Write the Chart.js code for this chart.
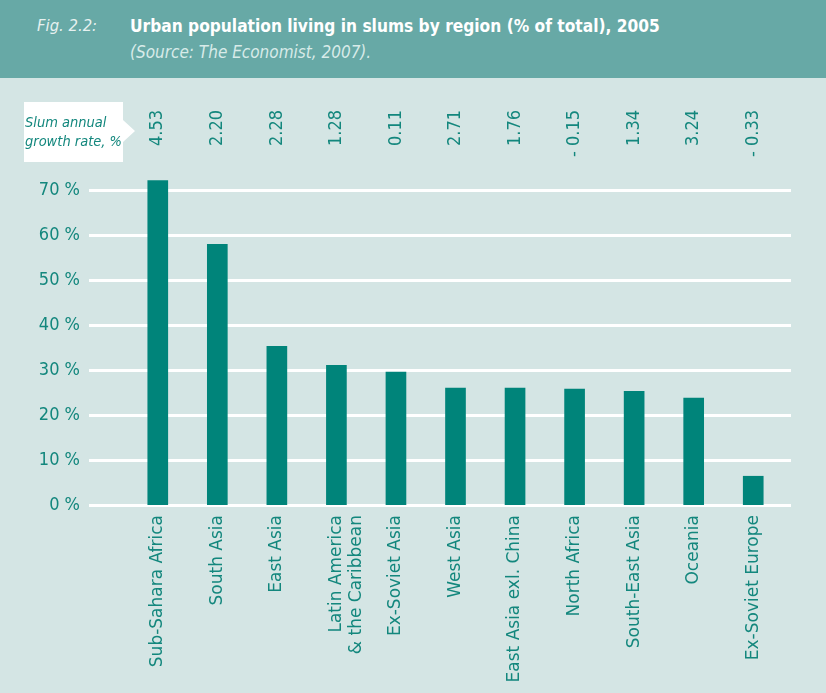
<!DOCTYPE html>
<html>
<head>
<meta charset="utf-8">
<script src="https://cdn.jsdelivr.net/npm/chart.js@4"></script>
<style>
  html, body { margin: 0; padding: 0; background: #d4e5e4; }
  #page { width: 826px; height: 693px; position: relative; overflow: hidden; background: #d4e5e4; }
  #header { position: absolute; left: 0; top: 0; width: 826px; height: 78px; background: #67a9a6; font-family: 'DejaVu Sans Condensed', 'Liberation Sans', sans-serif; }
  #fig { position: absolute; left: 37px; top: 16px; color: #e6f1f0; font-style: italic; font-size: 16.5px; }
  #title { position: absolute; left: 130px; top: 16px; color: #ffffff; font-weight: bold; font-size: 17.2px; }
  #source { position: absolute; left: 130px; top: 42px; color: #d8ebe9; font-style: italic; font-size: 17px; }
  #wrap { position: absolute; left: 0; top: 78px; width: 826px; height: 615px; }
</style>
</head>
<body>
<div id="page">
  <div id="header">
    <div id="fig">Fig. 2.2:</div>
    <div id="title">Urban population living in slums by region (% of total), 2005</div>
    <div id="source">(Source: The Economist, 2007).</div>
  </div>
  <div id="wrap"><canvas id="chart" width="826" height="615"></canvas></div>
</div>
<script>
// Regions and values
const regions = [
    'Sub-Sahara Africa',
    'South Asia',
    'East Asia',
    ['Latin America', '& the Caribbean'],
    'Ex-Soviet Asia',
    'West Asia',
    'East Asia exl. China',
    'North Africa',
    'South-East Asia',
    'Oceania',
    'Ex-Soviet Europe'
];
const slumShare = [72.2, 58.0, 35.3, 31.1, 29.6, 26.0, 26.0, 25.8, 25.3, 23.8, 6.4];
const growthRate = ['4.53', '2.20', '2.28', '1.28', '0.11', '2.71', '1.76', '- 0.15', '1.34', '3.24', '- 0.33'];
const yTicks = [0, 10, 20, 30, 40, 50, 60, 70];

const teal = '#00847a';
const textTeal = '#13877d';
const fontFamily = "'DejaVu Sans Condensed', 'Liberation Sans', sans-serif";
const wideFamily = "'DejaVu Sans', 'Liberation Sans', sans-serif";

// White gridlines that run past the category area
const gridPlugin = {
    id: 'wideGrid',
    beforeDatasetsDraw(chart) {
        const ctx = chart.ctx;
        const y = chart.scales.y;
        ctx.save();
        ctx.strokeStyle = '#ffffff';
        ctx.lineWidth = 3;
        yTicks.forEach(v => {
            const py = Math.round(y.getPixelForValue(v)) + 0.5;
            ctx.beginPath();
            ctx.moveTo(89, py);
            ctx.lineTo(791, py);
            ctx.stroke();
        });
        ctx.restore();
    }
};

// Growth rate row and its callout box
const growthPlugin = {
    id: 'growthRow',
    afterDraw(chart) {
        const ctx = chart.ctx;
        const x = chart.scales.x;
        ctx.save();

        // callout box
        ctx.fillStyle = '#ffffff';
        ctx.beginPath();
        ctx.moveTo(24, 24);
        ctx.lineTo(123, 24);
        ctx.lineTo(123, 42);
        ctx.lineTo(135, 53);
        ctx.lineTo(123, 64);
        ctx.lineTo(123, 84);
        ctx.lineTo(24, 84);
        ctx.closePath();
        ctx.fill();

        ctx.fillStyle = textTeal;
        ctx.font = 'italic 14.5px ' + fontFamily;
        ctx.textAlign = 'left';
        ctx.textBaseline = 'alphabetic';
        ctx.fillText('Slum annual', 25, 49);
        ctx.fillText('growth rate, %', 25, 68);

        // rotated values
        ctx.font = '18px ' + fontFamily;
        ctx.textAlign = 'right';
        ctx.textBaseline = 'middle';
        growthRate.forEach((g, i) => {
            const px = x.getPixelForValue(i);
            ctx.save();
            ctx.translate(px, 32);
            ctx.rotate(-Math.PI / 2);
            ctx.fillText(g, 0, 0);
            ctx.restore();
        });
        ctx.restore();
    }
};

new Chart(document.getElementById('chart'), {
    type: 'bar',
    data: {
        labels: regions,
        datasets: [{
            data: slumShare,
            backgroundColor: teal,
            borderWidth: 0,
            barThickness: 20
        }]
    },
    options: {
        responsive: false,
        animation: false,
        layout: { padding: { left: 0, right: 43, top: 90, bottom: 0 } },
        plugins: {
            legend: { display: false },
            tooltip: { enabled: false }
        },
        scales: {
            x: {
                grid: { display: false, drawTicks: false },
                border: { display: false },
                ticks: {
                    color: textTeal,
                    font: { family: wideFamily, size: 17 },
                    minRotation: 90,
                    maxRotation: 90,
                    autoSkip: false,
                    padding: 10
                },
                afterFit(scale) { scale.height = 188; }
            },
            y: {
                min: 0,
                max: 75,
                afterBuildTicks(scale) {
                    scale.ticks = yTicks.map(v => ({ value: v }));
                },
                grid: { display: false, drawTicks: false },
                border: { display: false },
                ticks: {
                    color: textTeal,
                    font: { family: fontFamily, size: 18 },
                    padding: 48,
                    callback: v => v + ' %'
                },
                afterFit(scale) { scale.width = 128; }
            }
        }
    },
    plugins: [gridPlugin, growthPlugin]
});
</script>
</body>
</html>
